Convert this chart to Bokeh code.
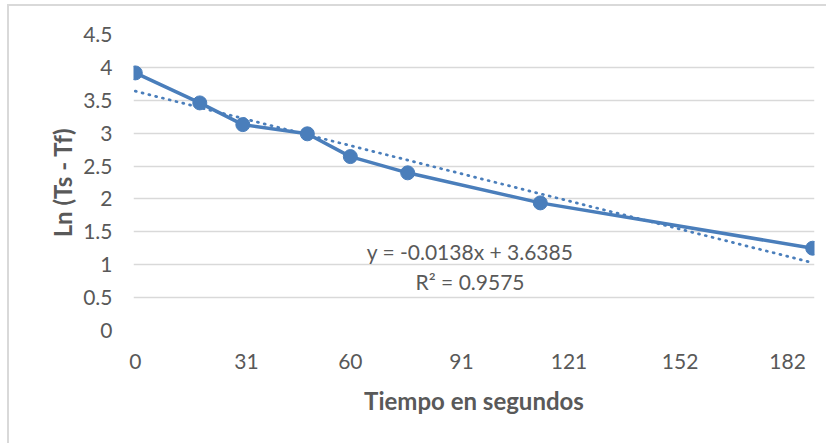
from bokeh.plotting import figure
from bokeh.models import FixedTicker, NumeralTickFormatter, Range1d, Label
from bokeh.embed import file_html
from bokeh.resources import INLINE

# ---- data ----
time_s = [0, 18, 30, 48, 60, 76, 113, 189]
ln_diff = [3.916, 3.46, 3.13, 2.99, 2.644, 2.397, 1.94, 1.251]
x_ticks = [0, 31, 60, 91, 121, 152, 182]
y_ticks = [0, 0.5, 1, 1.5, 2, 2.5, 3, 3.5, 4, 4.5]
trend_slope = -0.0138
trend_intercept = 3.6385
eq_text = "y = -0.0138x + 3.6385"
r2_text = "R² = 0.9575"
x_title = "Tiempo en segundos"
y_title = "Ln (Ts - Tf)"

BLUE = "#4A7EBB"
GREY = "#595959"
GRID = "#D9D9D9"
FONT = "Lato"

p = figure(width=819, height=439, output_backend="svg", toolbar_location=None,
           x_range=Range1d(-0.5, 189.5), y_range=Range1d(0, 4.5),
           min_border_left=124, min_border_right=14, min_border_top=28,
           min_border_bottom=115,
           styles={"margin-left": "7px", "margin-top": "4px",
                   "border-left": "2px solid #d9d9d9", "border-top": "2px solid #d9d9d9"})
p.outline_line_color = None
p.background_fill_color = "white"
p.border_fill_color = "white"

# grid
p.xgrid.grid_line_color = None
p.ygrid.grid_line_color = GRID
p.ygrid.grid_line_width = 1.5
p.ygrid.ticker = FixedTicker(ticks=y_ticks)

# axes
p.xaxis.ticker = FixedTicker(ticks=x_ticks)
p.yaxis.ticker = FixedTicker(ticks=y_ticks)
p.yaxis.formatter = NumeralTickFormatter(format="0.[0]")
for ax in (p.xaxis[0], p.yaxis[0]):
    ax.axis_line_color = None
    ax.major_tick_line_color = None
    ax.minor_tick_line_color = None
    ax.major_tick_out = 0
    ax.major_tick_in = 0
    ax.major_label_text_font = FONT
    ax.major_label_text_font_size = "21px"
    ax.major_label_text_color = GREY
    ax.axis_label_text_font = FONT
    ax.axis_label_text_font_size = "24px"
    ax.axis_label_text_font_style = "bold"
    ax.axis_label_text_color = GREY
p.xaxis.axis_label = x_title
p.yaxis.axis_label = y_title
p.xaxis.major_label_standoff = 23
p.xaxis.axis_label_standoff = 14
p.yaxis.major_label_standoff = 21
p.yaxis.axis_label_standoff = 3

# trendline (from equation)
trend_x = [time_s[0], time_s[-1]]
trend_y = [trend_intercept + trend_slope * t for t in trend_x]
p.line(trend_x, trend_y, line_color=BLUE, line_width=2.75, line_dash="1 6", line_cap="round")

# series
p.line(time_s, ln_diff, line_color=BLUE, line_width=3.5, line_join="round")
p.scatter(time_s, ln_diff, marker="circle", size=14, fill_color=BLUE, line_color=BLUE)

# equation labels
eq_x = 93.4
p.add_layout(Label(x=eq_x, y=1.20, text=eq_text, text_align="center", text_baseline="middle",
                   text_font=FONT, text_font_size="21px", text_color=GREY))
p.add_layout(Label(x=eq_x, y=0.745, text=r2_text, text_align="center", text_baseline="middle",
                   text_font=FONT, text_font_size="21px", text_color=GREY))

open("out.html", "w").write(file_html(p, INLINE))
